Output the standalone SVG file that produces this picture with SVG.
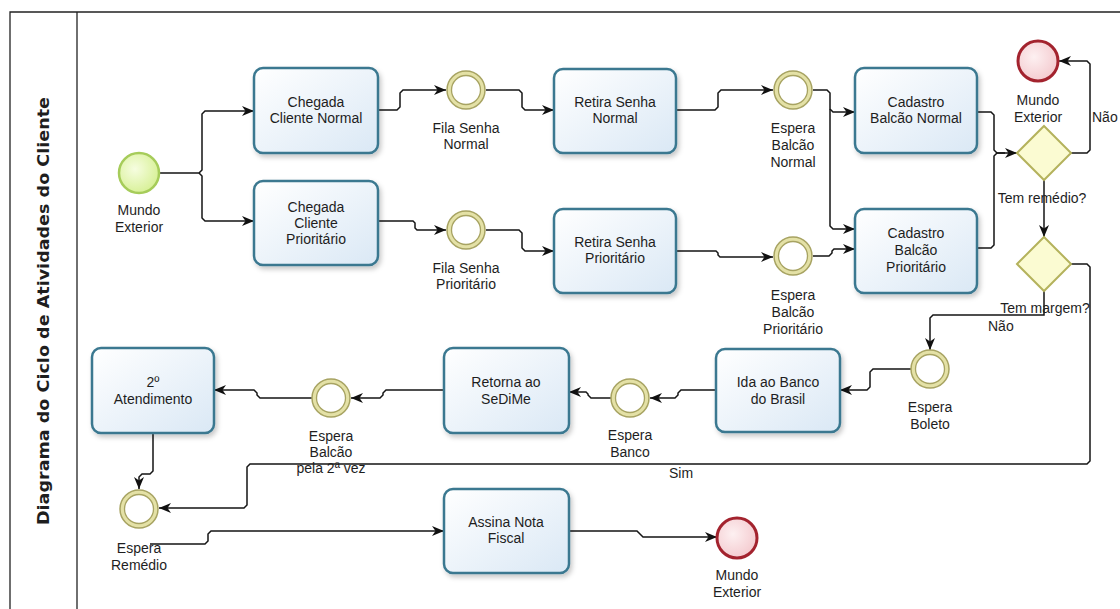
<svg xmlns="http://www.w3.org/2000/svg" width="1120" height="609" viewBox="0 0 1120 609">
<defs>
<style>
.t{font-family:"Liberation Sans",Arial,sans-serif;font-size:14px;fill:#1e1e1e;text-anchor:middle}
.ts{font-family:"Liberation Sans",Arial,sans-serif;font-size:14px;fill:#1e1e1e;text-anchor:start}
.task{fill:url(#gTask);stroke:#3a7890;stroke-width:2.5;filter:url(#sh)}
.ring{fill:#e4e1a6;stroke:#a7a362;stroke-width:1.5}
.ringin{fill:#ffffff;stroke:#a7a362;stroke-width:1.3}
.start{fill:url(#gStart);stroke:#a6cc5a;stroke-width:2.5}
.end{fill:url(#gEnd);stroke:#a3232e;stroke-width:3}
.gw{fill:#fbfbd2;stroke:#b4b25c;stroke-width:2}
.c{fill:none;stroke:#151515;stroke-width:1.5}
.frame{stroke:#222;stroke-width:1.3;fill:none}
</style>
<linearGradient id="gTask" x1="0" y1="0" x2="1" y2="1">
<stop offset="0" stop-color="#ffffff"/><stop offset="1" stop-color="#dae8f5"/>
</linearGradient>
<radialGradient id="gStart" cx="0.4" cy="0.4" r="0.7">
<stop offset="0" stop-color="#f6fde0"/><stop offset="1" stop-color="#d4ef8e"/>
</radialGradient>
<radialGradient id="gEnd" cx="0.4" cy="0.4" r="0.7">
<stop offset="0" stop-color="#fdf0f1"/><stop offset="1" stop-color="#f3c6cb"/>
</radialGradient>
<filter id="sh" x="-10%" y="-10%" width="130%" height="140%">
<feDropShadow dx="2" dy="3" stdDeviation="2.5" flood-color="#000" flood-opacity="0.22"/>
</filter>
<marker id="arr" viewBox="0 0 12 10" refX="12" refY="5" markerWidth="12" markerHeight="10" markerUnits="userSpaceOnUse" orient="auto">
<path d="M0,0 L12,5 L0,10 L3.5,5 z" fill="#111"/>
</marker>
</defs>
<rect width="1120" height="609" fill="#ffffff"/>

<g id="pool">
<path class="frame" d="M10,609 V12 H1120"/>
<line class="frame" x1="77" y1="12" x2="77" y2="609"/>
<text x="0" y="0" transform="translate(49,311) rotate(-90)" style="font-family:'DejaVu Sans',Verdana,sans-serif;font-size:16px;font-weight:bold;fill:#1e1e1e;text-anchor:middle" textLength="428" lengthAdjust="spacingAndGlyphs">Diagrama do Ciclo de Atividades do Cliente</text>
</g>

<g id="connectors">
<path class="c" marker-end="url(#arr)" d="M159,173 H199 L202,170 V114 L205,111 H254"/>
<path class="c" marker-end="url(#arr)" d="M199,173 L202,176 V218 L205,221 H254"/>
<path class="c" marker-end="url(#arr)" d="M378,110 H397 L400,107 V93 L403,90 H446"/>
<path class="c" marker-end="url(#arr)" d="M486,90 H519 L522,93 V107 L525,110 H554"/>
<path class="c" marker-end="url(#arr)" d="M676,110 H715 L718,107 V93 L721,90 H773"/>
<path class="c" marker-end="url(#arr)" d="M378,221 H413 L415,223 V228 L417,230 H446"/>
<path class="c" marker-end="url(#arr)" d="M486,230 H519 L522,233 V248 L525,251 H554"/>
<path class="c" marker-end="url(#arr)" d="M676,251 H716 L718,253 V255 L720,257 H773"/>
<path class="c" marker-end="url(#arr)" d="M813,90 H827 L830,93 V109 L833,112 H855"/>
<path class="c" marker-end="url(#arr)" d="M830,109 V226 L833,229 H855"/>
<path class="c" marker-end="url(#arr)" d="M813,256 H829 L832,253 V251 L834,249 H855"/>
<path class="c" marker-end="url(#arr)" d="M977,112 H991 L994,115 V150 L997,153 H1017"/>
<path class="c" d="M977,248 H991 L994,245 V156 L997,153 H1005"/>
<path class="c" marker-end="url(#arr)" d="M1071,153 H1087 L1090,150 V64 L1087,61 H1059"/>
<path class="c" marker-end="url(#arr)" d="M1044,180 V237"/>
<path class="c" marker-end="url(#arr)" d="M1044,291 V315 H933 L930,318 V350"/>
<path class="c" marker-end="url(#arr)" d="M1071,264 H1087 L1090,267 V461 L1087,464 H250 L247,467 V505 L244,508 H159"/>
<path class="c" marker-end="url(#arr)" d="M911,369 H873 L870,372 V387 L867,390 H840"/>
<path class="c" marker-end="url(#arr)" d="M716,390 H681 L678,393 V395 L675,398 H650"/>
<path class="c" marker-end="url(#arr)" d="M611,398 H591 L588,395 V394 L586,392 H569"/>
<path class="c" marker-end="url(#arr)" d="M444,390 H386 L383,393 V395 L380,398 H351"/>
<path class="c" marker-end="url(#arr)" d="M312,398 H260 L257,395 V393 L254,390 H214"/>
<path class="c" marker-end="url(#arr)" d="M153,433 V471 L150,474 H142 L139,477 V489"/>
<path class="c" marker-end="url(#arr)" d="M150,544 H205 L208,541 V534 L211,531 H444"/>
<path class="c" marker-end="url(#arr)" d="M569,531 H637 L640,534 L643,537 H717"/>
<text class="ts" x="1092" y="122">Não</text>
<text class="t" x="1042" y="203">Tem remédio?</text>
<text class="t" x="1045" y="313">Tem margem?</text>
<text class="ts" x="988" y="331">Não</text>
<text class="t" x="681" y="478">Sim</text>
</g>

<g id="start">
<circle class="start" cx="139" cy="173" r="20"/>
<text class="t" x="139" y="215">Mundo</text><text class="t" x="139" y="232">Exterior</text>
</g>
<g id="chegadaNormal">
<rect class="task" x="254" y="68" width="124" height="85" rx="9"/>
<text class="t" x="316" y="107">Chegada</text><text class="t" x="316" y="123">Cliente Normal</text>
</g>
<g id="chegadaPrioritario">
<rect class="task" x="254" y="181" width="124" height="84" rx="9"/>
<text class="t" x="316" y="212">Chegada</text><text class="t" x="316" y="228">Cliente</text><text class="t" x="316" y="244">Prioritário</text>
</g>
<g id="filaSenhaNormal">
<circle class="ring" cx="466" cy="90" r="19"/><circle class="ringin" cx="466" cy="90" r="14.5"/>
<text class="t" x="466" y="133">Fila Senha</text><text class="t" x="466" y="149">Normal</text>
</g>
<g id="filaSenhaPrioritario">
<circle class="ring" cx="466" cy="230" r="19"/><circle class="ringin" cx="466" cy="230" r="14.5"/>
<text class="t" x="466" y="273">Fila Senha</text><text class="t" x="466" y="289">Prioritário</text>
</g>
<g id="retiraSenhaNormal">
<rect class="task" x="554" y="69" width="122" height="84" rx="9"/>
<text class="t" x="615" y="107">Retira Senha</text><text class="t" x="615" y="123">Normal</text>
</g>
<g id="retiraSenhaPrioritario">
<rect class="task" x="554" y="209" width="122" height="84" rx="9"/>
<text class="t" x="615" y="247">Retira Senha</text><text class="t" x="615" y="263">Prioritário</text>
</g>
<g id="esperaBalcaoNormal">
<circle class="ring" cx="793" cy="90" r="19"/><circle class="ringin" cx="793" cy="90" r="14.5"/>
<text class="t" x="793" y="133">Espera</text><text class="t" x="793" y="150">Balcão</text><text class="t" x="793" y="167">Normal</text>
</g>
<g id="esperaBalcaoPrioritario">
<circle class="ring" cx="793" cy="256" r="19"/><circle class="ringin" cx="793" cy="256" r="14.5"/>
<text class="t" x="793" y="300">Espera</text><text class="t" x="793" y="317">Balcão</text><text class="t" x="793" y="334">Prioritário</text>
</g>
<g id="cadastroBalcaoNormal">
<rect class="task" x="855" y="68" width="122" height="85" rx="9"/>
<text class="t" x="916" y="107">Cadastro</text><text class="t" x="916" y="123">Balcão Normal</text>
</g>
<g id="cadastroBalcaoPrioritario">
<rect class="task" x="855" y="209" width="122" height="84" rx="9"/>
<text class="t" x="916" y="238">Cadastro</text><text class="t" x="916" y="255">Balcão</text><text class="t" x="916" y="272">Prioritário</text>
</g>
<g id="endTop">
<circle class="end" cx="1038" cy="61" r="20"/>
<text class="t" x="1038" y="105">Mundo</text><text class="t" x="1038" y="122">Exterior</text>
</g>
<g id="gwRemedio">
<polygon class="gw" points="1044,126 1071,153 1044,180 1017,153"/>
</g>
<g id="gwMargem">
<polygon class="gw" points="1044,237 1071,264 1044,291 1017,264"/>
</g>
<g id="esperaBoleto">
<circle class="ring" cx="930" cy="369" r="19"/><circle class="ringin" cx="930" cy="369" r="14.5"/>
<text class="t" x="930" y="412">Espera</text><text class="t" x="930" y="429">Boleto</text>
</g>
<g id="idaBanco">
<rect class="task" x="716" y="349" width="124" height="83" rx="9"/>
<text class="t" x="778" y="387">Ida ao Banco</text><text class="t" x="778" y="404">do Brasil</text>
</g>
<g id="esperaBanco">
<circle class="ring" cx="630" cy="398" r="19"/><circle class="ringin" cx="630" cy="398" r="14.5"/>
<text class="t" x="630" y="440">Espera</text><text class="t" x="630" y="457">Banco</text>
</g>
<g id="retornaSedime">
<rect class="task" x="444" y="348" width="125" height="85" rx="9"/>
<text class="t" x="506" y="387">Retorna ao</text><text class="t" x="506" y="404">SeDiMe</text>
</g>
<g id="esperaBalcao2">
<circle class="ring" cx="331" cy="398" r="19"/><circle class="ringin" cx="331" cy="398" r="14.5"/>
<text class="t" x="331" y="441">Espera</text><text class="t" x="331" y="457">Balcão</text><text class="t" x="331" y="473">pela 2ª vez</text>
</g>
<g id="atendimento2">
<rect class="task" x="92" y="348" width="122" height="85" rx="9"/>
<text class="t" x="153" y="387">2º</text><text class="t" x="153" y="404">Atendimento</text>
</g>
<g id="esperaRemedio">
<circle class="ring" cx="139" cy="509" r="19"/><circle class="ringin" cx="139" cy="509" r="14.5"/>
<text class="t" x="139" y="553">Espera</text><text class="t" x="139" y="570">Remédio</text>
</g>
<g id="assinaNota">
<rect class="task" x="444" y="489" width="125" height="84" rx="9"/>
<text class="t" x="506" y="527">Assina Nota</text><text class="t" x="506" y="543">Fiscal</text>
</g>
<g id="endBottom">
<circle class="end" cx="737" cy="538" r="20"/>
<text class="t" x="737" y="580">Mundo</text><text class="t" x="737" y="597">Exterior</text>
</g>
</svg>
